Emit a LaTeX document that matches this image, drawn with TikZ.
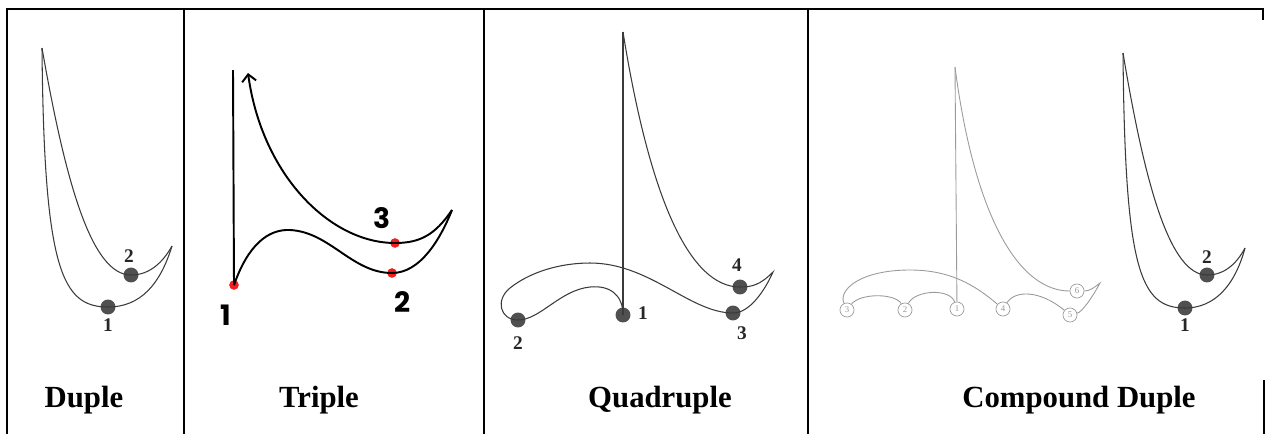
\documentclass[tikz,border=0pt]{standalone}
\usepackage{fontspec}
\setmainfont{Liberation Serif}
\newfontfamily\popfont{Poppins}
\usetikzlibrary{arrows.meta}

\definecolor{beatgray}{HTML}{505050}
\definecolor{penline}{HTML}{3A3A3A}
\definecolor{faint}{HTML}{9A9A9A}
\definecolor{beatred}{HTML}{F01E1E}

\begin{document}
\begin{tikzpicture}[
        % one unit = one pixel of the 1265 x 434 picture
        x=0.02cm, y=-0.02cm,
        frame/.style={line width=1.1pt, black},
        pen/.style={line width=0.6pt, penline},
        boldpen/.style={line width=1.1pt, black},
        faintpen/.style={line width=0.5pt, faint},
        beatdot/.style={circle, fill=beatgray, inner sep=0pt, minimum size=8.5pt},
        reddot/.style={circle, fill=beatred, inner sep=0pt, minimum size=5.5pt},
        ringdot/.style={circle, draw=faint, fill=white, line width=0.4pt, inner sep=0pt, minimum size=8pt, text=faint, font=\fontsize{5}{5}\selectfont},
        beatnum/.style={font=\fontsize{11}{11}\selectfont\bfseries, text=black!85},
        bignum/.style={font=\popfont\fontsize{16}{16}\selectfont\bfseries},
        title/.style={font=\fontsize{17.5}{20}\selectfont\bfseries, anchor=base}
    ]
    \useasboundingbox (0,0) rectangle (1265,434);

    % Table frame
    \draw[frame] (7,434) -- (7,9) -- (1263,9) -- (1263,20);
    \draw[frame] (184,9) -- (184,434);
    \draw[frame] (484,9) -- (484,434);
    \draw[frame] (808,9) -- (808,434);
    \draw[frame] (1264,380) -- (1264,434);

    % Duple
    \coordinate (dAtop) at (42,48);
    \coordinate (dAtip) at (172,246);
    \node[beatdot] (dA1) at (108,307) {};
    \node[beatdot] (dA2) at (131,275) {};
    \draw[pen] (dAtop) .. controls (44,270) and (62,307) .. (dA1.center)
        .. controls (140,307) and (160,285) .. (dAtip);
    \draw[pen] (dAtop) .. controls (66,185) and (92,275) .. (dA2.center)
        .. controls (150,275) and (163,262) .. (dAtip);
    \node[beatnum] (dA1n) at (108,325) {1};
    \node[beatnum] (dA2n) at (129,256) {2};
    \node[title] (tduple) at (84,407) {Duple};

    % Triple
    \coordinate (ttop) at (233,70);
    \coordinate (ttip) at (452,210);
    \coordinate (tarrow) at (248,73);
    \node[reddot] (t1) at (234,285) {};
    \node[reddot] (t2) at (392,273) {};
    \node[reddot] (t3) at (395,243) {};
    \draw[boldpen] (ttop) -- (t1.center);
    \draw[boldpen] (t1.center) .. controls (248,245) and (268,229) .. (290,230)
        .. controls (330,232) and (352,273) .. (t2.center)
        .. controls (420,273) and (440,240) .. (ttip);
    \draw[boldpen, -{Straight Barb[length=4pt, width=8pt]}] (ttip)
        .. controls (435,235) and (420,243) .. (t3.center)
        .. controls (330,243) and (262,175) .. (tarrow);
    \node[bignum] (t1n) at (226,315) {1};
    \node[bignum] (t2n) at (403,302) {2};
    \node[bignum] (t3n) at (382,218) {3};
    \node[title] (ttriple) at (319,407) {Triple};

    % Quadruple
    \coordinate (qtop) at (623,32);
    \coordinate (qtip) at (773,272);
    \node[beatdot] (q1) at (623,315) {};
    \node[beatdot] (q2) at (518,320) {};
    \node[beatdot] (q3) at (733,313) {};
    \node[beatdot] (q4) at (740,287) {};
    \draw[pen] (qtop) -- (q1.center);
    \draw[pen] (q1.center) .. controls (623,295) and (610,285) .. (590,287)
        .. controls (560,290) and (540,320) .. (q2.center);
    \draw[pen] (q2.center) .. controls (500,320) and (495,300) .. (510,288)
        .. controls (530,272) and (560,263) .. (590,263)
        .. controls (650,263) and (690,313) .. (q3.center);
    \draw[pen] (q3.center) .. controls (750,313) and (765,290) .. (qtip)
        .. controls (760,285) and (752,287) .. (q4.center)
        .. controls (690,287) and (650,200) .. (qtop);
    \node[beatnum] (q1n) at (643,313) {1};
    \node[beatnum] (q2n) at (518,343) {2};
    \node[beatnum] (q3n) at (742,333) {3};
    \node[beatnum] (q4n) at (737,265) {4};
    \node[title] (tquad) at (660,407) {Quadruple};

    % Compound duple, six-beat sketch
    \coordinate (ctop) at (955,67);
    \coordinate (ctip) at (1100,283);
    \node[ringdot] (c1) at (957,309) {1};
    \node[ringdot] (c2) at (905,310) {2};
    \node[ringdot] (c3) at (847,310) {3};
    \node[ringdot] (c4) at (1003,309) {4};
    \node[ringdot] (c5) at (1070,315) {5};
    \node[ringdot] (c6) at (1077,291) {6};
    \draw[faintpen] (ctop) -- (c1);
    \draw[faintpen] (c1) .. controls (950,288) and (915,290) .. (c2);
    \draw[faintpen] (c2) .. controls (895,293) and (860,293) .. (c3);
    \draw[faintpen] (c3) .. controls (838,290) and (860,270) .. (910,270)
        .. controls (950,270) and (975,285) .. (c4);
    \draw[faintpen] (c4) .. controls (1015,290) and (1040,290) .. (c5);
    \draw[faintpen] (c5) .. controls (1082,312) and (1092,298) .. (ctip)
        .. controls (1095,287) and (1090,291) .. (c6);
    \draw[faintpen] (c6) .. controls (1020,291) and (975,220) .. (ctop);

    % Compound duple, two-beat sketch
    \coordinate (dBtop) at (1123,53);
    \coordinate (dBtip) at (1245,248);
    \node[beatdot] (dB1) at (1185,308) {};
    \node[beatdot] (dB2) at (1207,275) {};
    \draw[pen] (dBtop) .. controls (1125,270) and (1140,308) .. (dB1.center)
        .. controls (1215,308) and (1235,285) .. (dBtip);
    \draw[pen] (dBtop) .. controls (1145,185) and (1170,275) .. (dB2.center)
        .. controls (1225,275) and (1237,263) .. (dBtip);
    \node[beatnum] (dB1n) at (1185,325) {1};
    \node[beatnum] (dB2n) at (1207,257) {2};
    \node[title] (tcomp) at (1079,407) {Compound Duple};
\end{tikzpicture}
\end{document}
